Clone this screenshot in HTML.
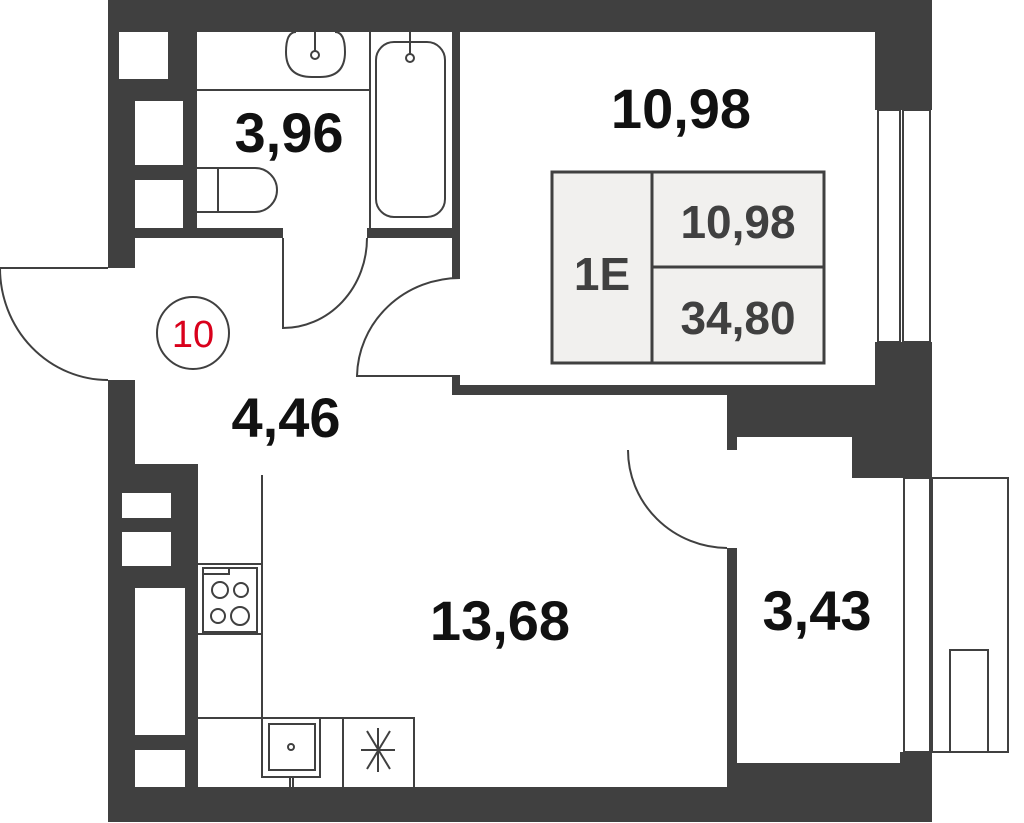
<!DOCTYPE html>
<html><head><meta charset="utf-8"><style>
html,body{margin:0;padding:0;background:#fff;width:1024px;height:823px;overflow:hidden}
svg{display:block}
.t{font-family:"Liberation Sans",sans-serif;font-weight:bold;fill:#111}
</style></head><body>
<svg width="1024" height="823" viewBox="0 0 1024 823" xmlns="http://www.w3.org/2000/svg">
<!-- base dark -->
<rect x="108" y="0" width="824" height="822" fill="#404040"/>
<g fill="#fff">
<!-- vents -->
<rect x="119" y="32" width="49" height="47"/>
<rect x="135" y="101" width="48" height="64"/>
<rect x="135" y="180" width="48" height="48"/>
<rect x="122" y="493" width="49" height="25"/>
<rect x="122" y="532" width="49" height="34"/>
<rect x="135" y="588" width="50" height="147"/>
<rect x="135" y="750" width="50" height="37"/>
<!-- bathroom -->
<rect x="197" y="32" width="255" height="196"/>
<rect x="283" y="226" width="84" height="14"/>
<!-- room 10.98 -->
<rect x="460" y="32" width="415" height="353"/>
<rect x="450" y="278" width="12" height="98"/>
<!-- hall + living -->
<rect x="135" y="238" width="317" height="226"/>
<rect x="135" y="395" width="592" height="69"/>
<rect x="314" y="385" width="138" height="90"/>
<rect x="198" y="464" width="529" height="323"/>
<rect x="100" y="268" width="40" height="112"/>
<!-- closet -->
<rect x="737" y="437" width="115" height="45"/>
<rect x="737" y="478" width="163" height="285"/>
<rect x="725" y="450" width="14" height="98"/>
<!-- windows -->
<rect x="875" y="110" width="57" height="232"/>
<rect x="900" y="478" width="32" height="274"/>
</g>
<g fill="none" stroke="#404040" stroke-width="2">
<!-- windows panes -->
<rect x="878" y="110" width="22" height="232"/>
<rect x="903" y="110" width="27" height="232"/>
<rect x="904" y="478" width="26" height="274"/>
<rect x="932" y="478" width="76" height="274"/>
<rect x="950" y="650" width="38" height="102"/>
<!-- bathroom fixtures -->
<line x1="197" y1="90" x2="370" y2="90"/>
<line x1="370" y1="32" x2="370" y2="228"/>
<path d="M296 32 Q286 32 286 52 Q286 77 312 77 L320 77 Q345 77 345 52 Q345 32 335 32"/>
<circle cx="315" cy="55" r="4"/>
<line x1="315" y1="32" x2="315" y2="51"/>
<rect x="376" y="42" width="69" height="175" rx="18"/>
<circle cx="410" cy="58" r="4"/>
<line x1="410" y1="32" x2="410" y2="54"/>
<path d="M197 168 L255 168 A22 22 0 0 1 255 212 L197 212"/>
<line x1="218" y1="168" x2="218" y2="212"/>
<!-- doors -->
<path d="M283 238 L283 328 A84 90 0 0 0 367 238"/>
<path d="M460 278 A103 100 0 0 0 357 376 L460 376"/>
<path d="M0 268 L108 268 M0 268 A108 112 0 0 0 108 380"/>
<path d="M628 450 A100 98 0 0 0 727 548"/>
<!-- kitchen -->
<line x1="262" y1="475" x2="262" y2="718"/>
<line x1="198" y1="564" x2="262" y2="564"/>
<line x1="198" y1="634" x2="262" y2="634"/>
<rect x="203" y="568" width="54" height="64"/>
<rect x="203" y="568" width="26" height="6"/>
<circle cx="220" cy="590" r="8"/><circle cx="241" cy="590" r="7"/>
<circle cx="218" cy="616" r="7"/><circle cx="240" cy="616" r="9"/>
<polyline points="198,718 414,718 414,787"/>
<line x1="343" y1="718" x2="343" y2="787"/>
<rect x="262" y="718" width="58" height="59"/>
<rect x="269" y="724" width="46" height="46"/>
<circle cx="291" cy="747" r="3"/>
<line x1="290" y1="777" x2="290" y2="787"/><line x1="293" y1="777" x2="293" y2="787"/>
<path d="M367 731 L390 769 M367 769 L390 731 M378 728 L378 772 M361 750 L395 750"/>
<!-- info box -->
<rect x="552" y="172" width="272" height="191" fill="#f1f0ee" stroke-width="3"/>
<line x1="652" y1="172" x2="652" y2="363" stroke-width="3"/>
<line x1="652" y1="267" x2="824" y2="267" stroke-width="3"/>
<circle cx="193" cy="333" r="36"/>
</g>
<text class="t" x="289" y="152" font-size="56" text-anchor="middle">3,96</text>
<text class="t" x="681" y="128" font-size="56" text-anchor="middle">10,98</text>
<text class="t" x="286" y="437" font-size="56" text-anchor="middle">4,46</text>
<text class="t" x="500" y="640" font-size="56" text-anchor="middle">13,68</text>
<text class="t" x="817" y="630" font-size="56" text-anchor="middle">3,43</text>
<text x="193" y="347" font-size="38" text-anchor="middle" font-family="Liberation Sans,sans-serif" fill="#d9001b">10</text>
<text x="602" y="290" font-size="46" text-anchor="middle" font-family="Liberation Sans,sans-serif" font-weight="bold" fill="#404040">1E</text>
<text x="738" y="238" font-size="46" text-anchor="middle" font-family="Liberation Sans,sans-serif" font-weight="bold" fill="#404040">10,98</text>
<text x="738" y="334" font-size="46" text-anchor="middle" font-family="Liberation Sans,sans-serif" font-weight="bold" fill="#404040">34,80</text>
</svg>
</body></html>
